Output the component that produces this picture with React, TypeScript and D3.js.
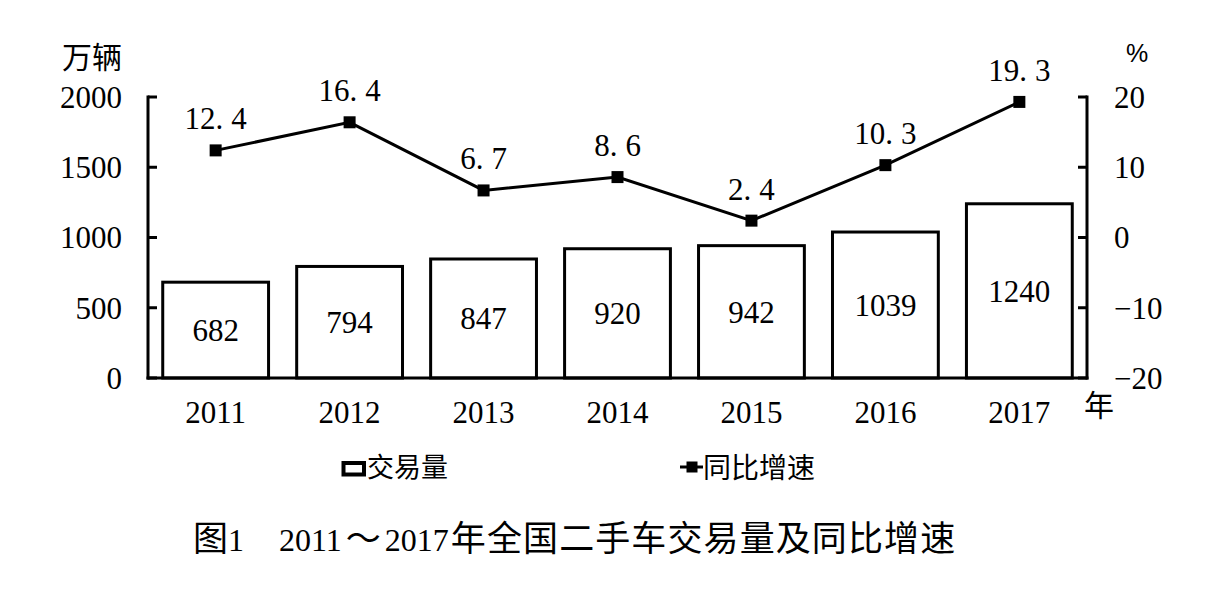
import * as d3 from "d3";

const years = ["2011", "2012", "2013", "2014", "2015", "2016", "2017"];
const volume = [682, 794, 847, 920, 942, 1039, 1240];
const growth = [12.4, 16.4, 6.7, 8.6, 2.4, 10.3, 19.3];
const leftTicks = [0, 500, 1000, 1500, 2000];
const rightTicks = [-20, -10, 0, 10, 20];

const serif = "'Liberation Serif', 'Noto Sans CJK SC', serif";

function App() {
  const width = 1228;
  const height = 611;
  const plot = { left: 148, right: 1087, top: 97, bottom: 378 };

  const x = d3
    .scaleBand<string>()
    .domain(years)
    .range([plot.left, plot.right])
    .paddingInner(0.21)
    .paddingOuter(0.11);

  const yLeft = d3.scaleLinear().domain([0, 2000]).range([plot.bottom, plot.top]);
  const yRight = d3.scaleLinear().domain([-20, 20]).range([plot.bottom, plot.top]);
  const fmt = d3.format("d");

  const line = d3
    .line<number>()
    .x((_, i) => (x(years[i]) as number) + x.bandwidth() / 2)
    .y((d) => yRight(d));

  // split "12.4" so the decimal point takes a full digit width like the original
  const splitLabel = (v: number) => {
    const s = v.toFixed(1);
    const dot = s.indexOf(".");
    return [s.slice(0, dot + 1), s.slice(dot + 1)];
  };

  return (
    <svg
      width={width}
      height={height}
      style={{ position: "absolute", left: 0, top: 0, background: "#fff" }}
    >
      {/* bars */}
      {volume.map((v, i) => (
        <g key={years[i]}>
          <rect
            x={x(years[i])}
            y={yLeft(v)}
            width={x.bandwidth()}
            height={plot.bottom - yLeft(v)}
            fill="#fff"
            stroke="#000"
            strokeWidth={3}
          />
          <text
            x={(x(years[i]) as number) + x.bandwidth() / 2}
            y={(yLeft(v) + plot.bottom) / 2}
            dy="0.35em"
            textAnchor="middle"
            fontFamily={serif}
            fontSize={31}
          >
            {v}
          </text>
        </g>
      ))}

      {/* axes */}
      <line x1={plot.left} x2={plot.left} y1={plot.top - 1.5} y2={plot.bottom + 1.5} stroke="#000" strokeWidth={3} />
      <line x1={plot.right} x2={plot.right} y1={plot.top - 1.5} y2={plot.bottom + 1.5} stroke="#000" strokeWidth={3} />
      <line x1={plot.left - 1.5} x2={plot.right + 1.5} y1={plot.bottom} y2={plot.bottom} stroke="#000" strokeWidth={3} />

      {leftTicks.map((t) => (
        <g key={"l" + t}>
          <line x1={plot.left} x2={plot.left + 9} y1={yLeft(t)} y2={yLeft(t)} stroke="#000" strokeWidth={3} />
          <text x={122} y={yLeft(t)} dy="0.35em" textAnchor="end" fontFamily={serif} fontSize={31}>
            {fmt(t)}
          </text>
        </g>
      ))}
      {rightTicks.map((t) => (
        <g key={"r" + t}>
          <line x1={plot.right - 9} x2={plot.right} y1={yRight(t)} y2={yRight(t)} stroke="#000" strokeWidth={3} />
          <text x={1114} y={yRight(t)} dy="0.35em" textAnchor="start" fontFamily={serif} fontSize={31}>
            {fmt(t)}
          </text>
        </g>
      ))}

      {years.map((yr) => (
        <text
          key={"x" + yr}
          x={(x(yr) as number) + x.bandwidth() / 2}
          y={412}
          dy="0.35em"
          textAnchor="middle"
          fontFamily={serif}
          fontSize={31}
        >
          {yr}
        </text>
      ))}

      {/* axis titles */}
      <text x={122} y={57} dy="0.35em" textAnchor="end" fontFamily={serif} fontSize={30}>
        万辆
      </text>
      <text x={1137} y={53} dy="0.35em" textAnchor="middle" fontFamily="'Liberation Sans', sans-serif" fontSize={25}>
        %
      </text>
      <text x={1099} y={405} dy="0.35em" textAnchor="middle" fontFamily={serif} fontSize={30}>
        年
      </text>

      {/* growth line */}
      <path d={line(growth) || ""} fill="none" stroke="#000" strokeWidth={3} />
      {growth.map((g, i) => {
        const cx = (x(years[i]) as number) + x.bandwidth() / 2;
        const cy = yRight(g);
        const [a, b] = splitLabel(g);
        return (
          <g key={"g" + i}>
            <rect x={cx - 6} y={cy - 6} width={12} height={12} fill="#000" />
            <text x={cx} y={cy - 21} textAnchor="middle" fontFamily={serif} fontSize={31}>
              {a}
              <tspan dx={8}>{b}</tspan>
            </text>
          </g>
        );
      })}

      {/* legend */}
      <rect x={343.5} y={463} width={20.5} height={11.5} fill="#fff" stroke="#000" strokeWidth={4} />
      <text x={367} y={468} dy="0.35em" fontFamily={serif} fontSize={27}>
        交易量
      </text>
      <line x1={680} x2={703} y1={467} y2={467} stroke="#000" strokeWidth={3} />
      <rect x={686.5} y={461.5} width={11} height={11} fill="#000" />
      <text x={703} y={468} dy="0.35em" fontFamily={serif} fontSize={28}>
        同比增速
      </text>

      {/* caption: CJK glyphs a bit larger than the digits, as in the original */}
      <text x={193} y={540} dy="0.35em" fontFamily={serif} fontSize={32}>
        <tspan fontSize={35}>图</tspan>1<tspan fontSize={35}>　</tspan>2011
        <tspan fontSize={35} dx={4}>～</tspan>
        <tspan dx={4}>2017</tspan>
        <tspan fontSize={35} dx={2} letterSpacing={1.1}>年全国二手车交易量及同比增速</tspan>
      </text>
    </svg>
  );
}

export default App;
